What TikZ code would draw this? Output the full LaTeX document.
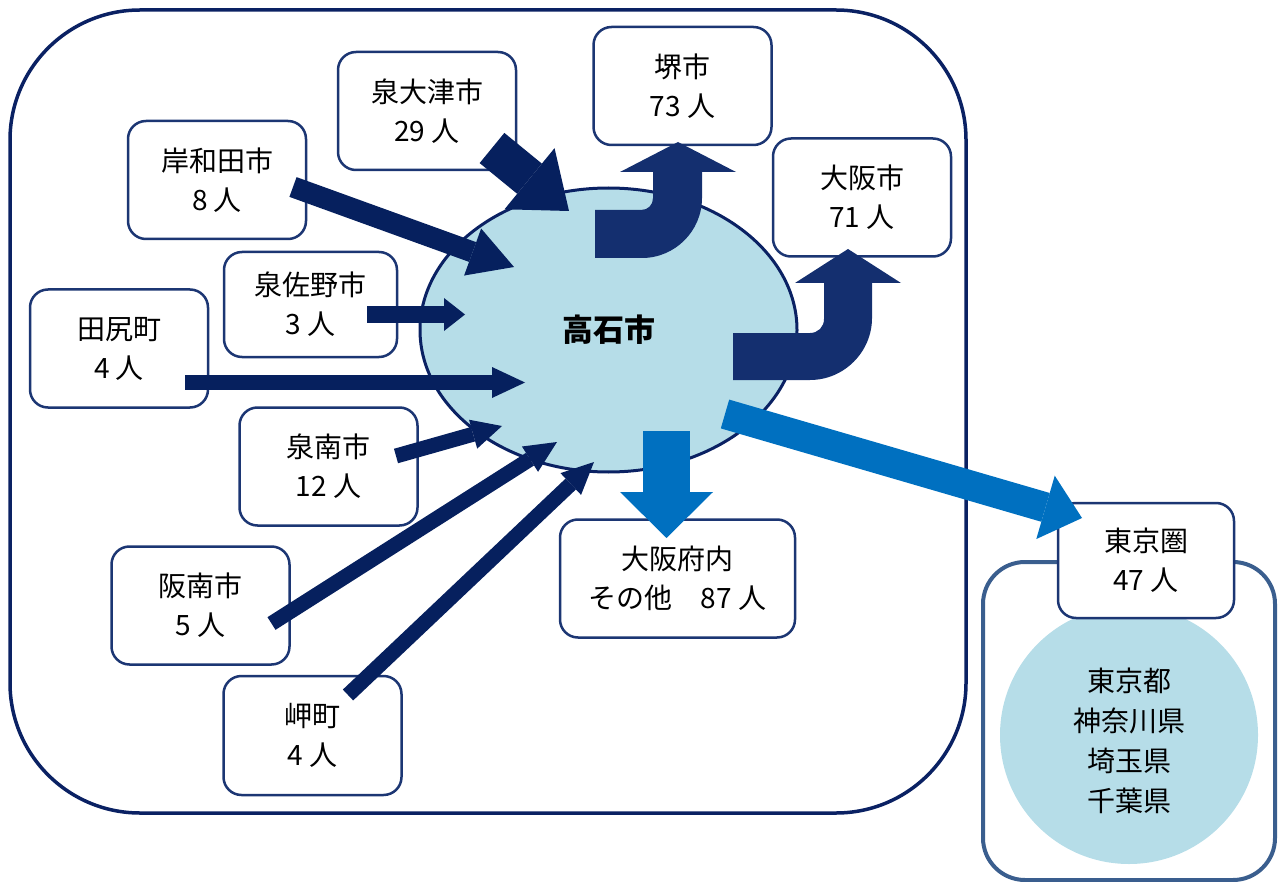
\documentclass[tikz,border=0pt]{standalone}
\usepackage{fontspec}
\setmainfont{Noto Sans CJK JP}
\usetikzlibrary{arrows.meta,shapes.geometric}
\definecolor{frameline}{HTML}{0A2163}
\definecolor{boxline}{HTML}{1C3673}
\definecolor{tokyoline}{HTML}{3A5E8E}
\definecolor{navyin}{HTML}{06205E}
\definecolor{bentcol}{HTML}{142F6F}
\definecolor{bluearr}{HTML}{0070C0}
\definecolor{lightblue}{HTML}{B6DDE8}
\begin{document}
\begin{tikzpicture}[x=1pt,y=-1pt,
  box/.style={draw=boxline, line width=2.5pt, fill=white, rounded corners=18pt,
    minimum width=178pt, minimum height=118pt, align=center, inner sep=0pt,
    font=\fontsize{28}{39}\selectfont},
  inarr/.style={draw=navyin, line width=#1},
]
\useasboundingbox (0,0) rectangle (1284,882);
% frames
\draw[frameline, line width=3.5pt, rounded corners=130pt] (10,10) rectangle (966,813);
\draw[tokyoline, line width=4pt, rounded corners=42pt] (983,562) rectangle (1275,880);
\node[circle, fill=lightblue, minimum size=258pt, inner sep=0pt] (tokyoc) at (1129,735) {};
\node[align=center, font=\fontsize{28}{40}\selectfont] (tokyotxt) at (1129,741) {東京都\\神奈川県\\埼玉県\\千葉県};
% centre
\node[ellipse, draw=frameline, line width=3pt, fill=lightblue, minimum width=377pt, minimum height=284pt, inner sep=0pt,
  font=\fontsize{31}{36}\selectfont\bfseries] (takaishi) at (608.5,330) {高石市};
% boxes
\node[box] (izumiotsu) at (427,111) {泉大津市\\29 人};
\node[box] (sakai) at (682.5,86) {堺市\\73 人};
\node[box] (kishiwada) at (217,180) {岸和田市\\8 人};
\node[box] (osaka) at (862,197.5) {大阪市\\71 人};
\node[box, minimum width=173pt, minimum height=105pt] (izumisano) at (310.5,304.5) {泉佐野市\\3 人};
\node[box] (tajiri) at (119,348.5) {田尻町\\4 人};
\node[box] (sennan) at (328.5,466.5) {泉南市\\12 人};
\node[box, minimum width=235pt] (funai) at (677.5,578.5) {大阪府内\\その他　87 人};
\node[box] (hannan) at (200.5,605.5) {阪南市\\5 人};
\node[box, minimum height=119pt] (misaki) at (312.5,735.5) {岬町\\4 人};
\node[box, minimum width=176pt, minimum height=115pt] (tokyoken) at (1146,560.5) {東京圏\\47 人};
% arrow end points
\coordinate (s1) at (492,148);   \coordinate (t1) at (569,211);
\coordinate (s2) at (293,187);   \coordinate (t2) at (514,267);
\coordinate (s3) at (367,314.5); \coordinate (t3) at (465,314.5);
\coordinate (s4) at (185,382.5); \coordinate (t4) at (525,382.5);
\coordinate (s5) at (396,456);   \coordinate (t5) at (502,426);
\coordinate (s6) at (271.5,623.5); \coordinate (t6) at (557,442);
\coordinate (s7) at (348,695);   \coordinate (t7) at (594,462);
\coordinate (s8) at (725,414);   \coordinate (t8) at (1082,518);
\coordinate (s9) at (666.5,431); \coordinate (t9) at (666.5,538);
% incoming arrows
\draw[inarr=39pt, -{Triangle[length=51pt,width=79pt,line width=0pt]}] (s1) -- (t1);
\draw[inarr=21pt, -{Triangle[length=44pt,width=50pt,line width=0pt]}] (s2) -- (t2);
\draw[inarr=17pt, -{Triangle[length=21pt,width=33pt,line width=0pt]}] (s3) -- (t3);
\draw[inarr=15pt, -{Triangle[length=33pt,width=31pt,line width=0pt]}] (s4) -- (t4);
\draw[inarr=15pt, -{Triangle[length=30pt,width=30pt,line width=0pt]}] (s5) -- (t5);
\draw[inarr=15pt, -{Triangle[length=32pt,width=30pt,line width=0pt]}] (s6) -- (t6);
\draw[inarr=15pt, -{Triangle[length=32pt,width=30pt,line width=0pt]}] (s7) -- (t7);
% outgoing straight arrows
\draw[draw=bluearr, line width=30pt, -{Triangle[length=38pt,width=66pt,line width=0pt]}] (s8) -- (t8);
\draw[draw=bluearr, line width=47pt, -{Triangle[length=46pt,width=93pt,line width=0pt]}] (s9) -- (t9);
% bent arrows
\fill[bentcol] (595,258) -- (642,258) .. controls (675,258) and (702,231) .. (702,198) -- (702,172) -- (736,172) -- (678,142) -- (620,172) -- (653,172) -- (653,198) .. controls (653,205) and (648,210) .. (641,210) -- (595,210) -- cycle;
\fill[bentcol] (733,380) -- (810,380) .. controls (844,380) and (872,352) .. (872,318) -- (872,283) -- (901,283) -- (848,249) -- (795,283) -- (824,283) -- (824,319) .. controls (824,327) and (818,333) .. (810,333) -- (733,333) -- cycle;
\end{tikzpicture}
\end{document}
